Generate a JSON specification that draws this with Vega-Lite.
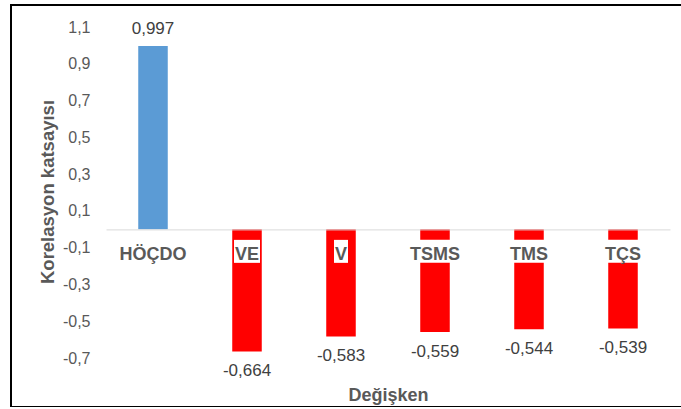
{
  "$schema": "https://vega.github.io/schema/vega-lite/v6.json",
  "width": 680,
  "height": 402,
  "autosize": "none",
  "padding": {"left": 11, "top": 5, "right": 0, "bottom": 0},
  "background": "white",
  "config": {
    "locale": {"number": {"decimal": ",", "thousands": ".", "grouping": [3], "currency": ["", ""], "minus": "-"}},
    "view": {"stroke": "#000000", "strokeWidth": 2},
    "font": "Liberation Sans",
    "text": {"font": "Liberation Sans"}
  },
  "data": {
    "values": [
      {"cat": "HÖÇDO", "value": 0.997},
      {"cat": "VE", "value": -0.664},
      {"cat": "V", "value": -0.583},
      {"cat": "TSMS", "value": -0.559},
      {"cat": "TMS", "value": -0.544},
      {"cat": "TÇS", "value": -0.539}
    ]
  },
  "encoding": {
    "x": {
      "field": "cat",
      "type": "nominal",
      "sort": null,
      "scale": {"range": [95, 659], "paddingInner": 0.686, "paddingOuter": 0.343},
      "axis": {
        "orient": "bottom",
        "offset": -177.6,
        "domain": true,
        "domainColor": "#D9D9D9",
        "domainWidth": 1,
        "ticks": false,
        "tickSize": 0,
        "grid": false,
        "labelPadding": 30,
        "labelAngle": 0,
        "labelBaseline": "alphabetic",
        "labelFont": "Liberation Sans",
        "labelFontSize": 18,
        "labelFontWeight": "bold",
        "labelColor": "#595959",
        "labelOverlap": false,
        "title": "Değişken",
        "titleFont": "Liberation Sans",
        "titleFontSize": 18,
        "titleFontWeight": "bold",
        "titleColor": "#595959",
        "titleBaseline": "alphabetic",
        "titleY": 170.6,
        "zindex": 1
      }
    }
  },
  "layer": [
    {
      "mark": {"type": "bar"},
      "encoding": {
        "y": {
          "field": "value",
          "type": "quantitative",
          "scale": {"domain": [-0.7, 1.1], "range": [353, 22], "nice": false, "zero": false},
          "axis": {
            "orient": "left",
            "offset": -79,
            "domain": false,
            "ticks": false,
            "grid": false,
            "labelPadding": 0,
            "values": [-0.7, -0.5, -0.3, -0.1, 0.1, 0.3, 0.5, 0.7, 0.9, 1.1],
            "format": ".1f",
            "labelFont": "Liberation Sans",
            "labelFontSize": 16,
            "labelColor": "#595959",
            "labelBaseline": "middle",
            "title": "Korelasyon katsayısı",
            "titleFont": "Liberation Sans",
            "titleFontSize": 18.5,
            "titleFontWeight": "bold",
            "titleColor": "#595959",
            "titleBaseline": "alphabetic",
            "titleX": -37,
            "titleY": 186.5
          }
        },
        "color": {
          "condition": {"test": "datum.value > 0", "value": "#5B9BD5"},
          "value": "#FF0000"
        }
      }
    },
    {
      "transform": [{"filter": {"field": "cat", "oneOf": ["TSMS", "TMS", "TÇS"]}}],
      "mark": {"type": "bar", "color": "white", "width": 56},
      "encoding": {"y": {"datum": -0.0576}, "y2": {"datum": -0.1826}}
    },
    {
      "transform": [{"filter": {"field": "cat", "equal": "VE"}}],
      "mark": {"type": "bar", "color": "white", "width": 26},
      "encoding": {"y": {"datum": -0.0576}, "y2": {"datum": -0.1826}}
    },
    {
      "transform": [{"filter": {"field": "cat", "equal": "V"}}],
      "mark": {"type": "bar", "color": "white", "width": 14},
      "encoding": {"y": {"datum": -0.0576}, "y2": {"datum": -0.1826}}
    },
    {
      "transform": [{"filter": "datum.value > 0"}],
      "mark": {"type": "text", "baseline": "alphabetic", "align": "center", "dy": -12, "fontSize": 17, "color": "#404040"},
      "encoding": {
        "y": {"field": "value", "type": "quantitative"},
        "text": {"field": "value", "type": "quantitative", "format": ".3f"}
      }
    },
    {
      "transform": [{"filter": "datum.value < 0"}],
      "mark": {"type": "text", "baseline": "alphabetic", "align": "center", "dy": 25, "fontSize": 17, "color": "#404040"},
      "encoding": {
        "y": {"field": "value", "type": "quantitative"},
        "text": {"field": "value", "type": "quantitative", "format": ".3f"}
      }
    }
  ]
}
